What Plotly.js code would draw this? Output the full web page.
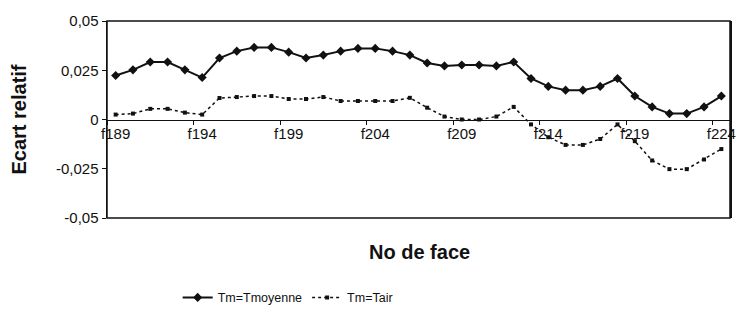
<!DOCTYPE html>
<html>
<head>
<meta charset="utf-8">
<script src="https://cdn.plot.ly/plotly-3.0.1.min.js"></script>
<style>
  html, body { margin: 0; padding: 0; background: #fff; }
  #chart { width: 739px; height: 322px; }
</style>
</head>
<body>
<div id="chart"></div>
<script>
// Face numbers f189 .. f224
const faces = ["f189","f190","f191","f192","f193","f194","f195","f196","f197","f198",
  "f199","f200","f201","f202","f203","f204","f205","f206","f207","f208",
  "f209","f210","f211","f212","f213","f214","f215","f216","f217","f218",
  "f219","f220","f221","f222","f223","f224"];

// Relative deviation with Tm = mean temperature
const ecartTmoyenne = [0.0223, 0.0252, 0.0292, 0.0292, 0.0252, 0.0213, 0.0312, 0.0347, 0.0366, 0.0366,
  0.0342, 0.0312, 0.0327, 0.0347, 0.0361, 0.0361, 0.0347, 0.0327, 0.0287, 0.0272,
  0.0277, 0.0277, 0.0272, 0.0292, 0.0208, 0.0168, 0.0149, 0.0149, 0.0168, 0.0208,
  0.0119, 0.0064, 0.0030, 0.0030, 0.0064, 0.0119];

// Relative deviation with Tm = air temperature
const ecartTair = [0.0025, 0.0030, 0.0054, 0.0054, 0.0035, 0.0025, 0.0109, 0.0114, 0.0119, 0.0119,
  0.0104, 0.0104, 0.0114, 0.0094, 0.0094, 0.0094, 0.0094, 0.0110, 0.0060, 0.0015,
  0.0000, 0.0000, 0.0015, 0.0064, -0.0025, -0.0090, -0.0129, -0.0129, -0.0099, -0.0025,
  -0.0110, -0.0208, -0.0252, -0.0252, -0.0203, -0.0150];

// Axis tick labels
const xTickFaces = ["f189","f194","f199","f204","f209","f214","f219","f224"];
const yTickValues = [-0.05, -0.025, 0, 0.025, 0.05];
const yTickLabels = ["-0,05", "-0,025", "0", "0,025", "0,05"];

const FONT = "Liberation Sans, Arial, sans-serif";
const INK = "#111";

const traces = [
  {
    x: faces, y: ecartTmoyenne, name: "Tm=Tmoyenne",
    type: "scatter", mode: "lines+markers",
    line: { color: INK, width: 2 },
    marker: { symbol: "diamond", size: 7, color: INK }
  },
  {
    x: faces, y: ecartTair, name: "Tm=Tair",
    type: "scatter", mode: "lines+markers",
    line: { color: INK, width: 1.5, dash: "dot" },
    marker: { symbol: "square", size: 4, color: INK }
  }
];

const layout = {
  width: 739, height: 322,
  margin: { l: 107, r: 9, t: 21, b: 102 },
  paper_bgcolor: "#fff", plot_bgcolor: "#fff",
  font: { family: FONT, size: 15, color: INK },
  showlegend: true,
  legend: {
    orientation: "h", x: 0.29, xanchor: "center", y: -0.405, yanchor: "middle",
    font: { family: FONT, size: 12.5, color: INK }, bgcolor: "rgba(0,0,0,0)"
  },
  xaxis: {
    type: "category", categoryorder: "array", categoryarray: faces,
    range: [-0.5, faces.length - 0.5],
    anchor: "free", position: 0.5,
    showline: true, linecolor: INK, linewidth: 1.5,
    showgrid: false, zeroline: false,
    tickmode: "array", tickvals: xTickFaces, ticktext: xTickFaces,
    tickangle: 0,
    ticks: "outside", ticklen: 4, tickcolor: INK, tickson: "boundaries",
    tickfont: { family: FONT, size: 15, color: INK }
  },
  yaxis: {
    range: [-0.05, 0.05],
    showline: true, linecolor: INK, linewidth: 1.5, mirror: true,
    showgrid: false, zeroline: false,
    tickmode: "array", tickvals: yTickValues, ticktext: yTickLabels,
    ticks: "outside", ticklen: 4, tickcolor: INK,
    tickfont: { family: FONT, size: 15, color: INK },
    title: { text: "Ecart relatif", font: { family: FONT, size: 20, color: INK, weight: "bold" }, standoff: 24 }
  },
  shapes: [
    { type: "rect", xref: "paper", yref: "paper", x0: 0, x1: 1, y0: 0, y1: 1,
      line: { color: INK, width: 1.5 }, fillcolor: "rgba(0,0,0,0)" }
  ],
  annotations: [
    { text: "<b>No de face</b>", xref: "paper", yref: "paper", x: 0.502, y: -0.175,
      xanchor: "center", yanchor: "middle", showarrow: false,
      font: { family: FONT, size: 20, color: INK } }
  ]
};

Plotly.newPlot("chart", traces, layout, { displayModeBar: false, staticPlot: true });
</script>
</body>
</html>
